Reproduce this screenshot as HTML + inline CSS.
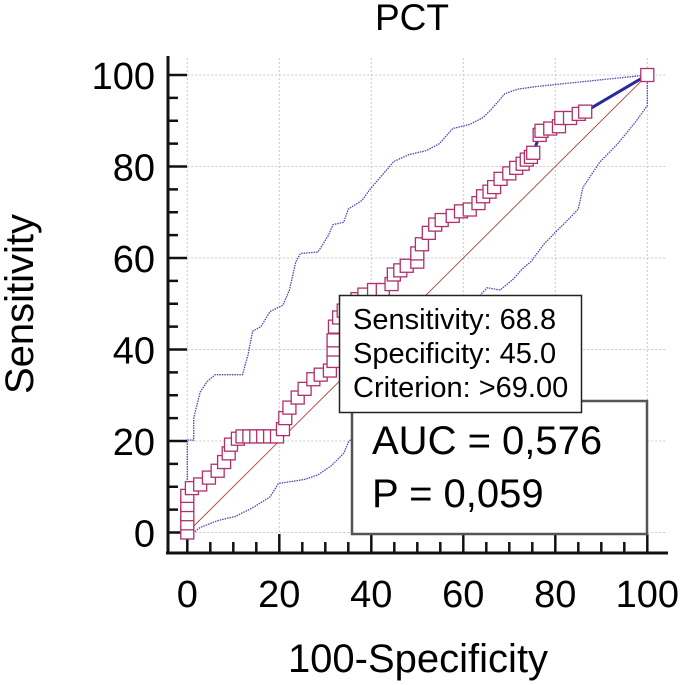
<!DOCTYPE html>
<html><head><meta charset="utf-8"><style>
html,body{margin:0;padding:0;background:#fff;}
svg{display:block;font-family:"Liberation Sans",Arial,sans-serif;}
</style></head><body>
<svg id="chart" width="681" height="685" viewBox="0 0 681 685">
<text x="412" y="30" font-size="37" text-anchor="middle">PCT</text>
<g id="grid"></g>
<g id="axes"></g>
<g id="series"></g>
<text x="418" y="672" font-size="40" text-anchor="middle">100-Specificity</text>
<text transform="translate(33,304) rotate(-90)" font-size="40" text-anchor="middle">Sensitivity</text>
<g>
<rect x="352" y="401" width="295" height="133" fill="#fff" stroke="#555" stroke-width="2.5"/>
<text x="372" y="454" font-size="40">AUC = 0,576</text>
<text x="372" y="507" font-size="40">P = 0,059</text>
<rect x="339.5" y="295.5" width="242" height="117" fill="#fff" stroke="#222" stroke-width="1.5"/>
<text x="353" y="329" font-size="29">Sensitivity: 68.8</text>
<text x="353" y="363" font-size="29">Specificity: 45.0</text>
<text x="353" y="397" font-size="29">Criterion: &gt;69.00</text>
</g>
</svg>
<script>
const ticks=[0,20,40,60,80,100];
const rocX=[0,0,0,0,0,1,2.8,4.7,6.6,8,9,9.5,11,12,13.5,15,16.5,18,19.5,20.8,21.3,22.2,24,25.5,27.4,29,31,31.8,31.8,31.8,32.1,33,34,35.5,37,38.5,40.6,42.5,44.4,44.9,46.3,47.7,50,50,51,52.5,53.9,55.3,57.7,59.5,61.4,63.3,64.3,65.7,66.7,68.1,70,71.5,72.9,73.8,74.7,75.2,76.6,77,78.9,80.8,81.3,83.2,85.1,86.5,100];
const rocY=[0,2,4,6,8,9.7,10.5,12,13.5,15.4,17.3,19.2,20.5,21,21,21,21,21,21,22.6,25,27.3,29.5,31.4,33.5,34.5,35.4,37.5,40,42,45,47,48.5,50,51,52,53,53,54.3,56.4,57.3,58.3,59.2,61,63,65.5,67.3,68.3,69.2,70.2,70.6,72,73.5,74.5,75.5,77.3,78.5,79.7,80.6,81.5,82.1,83,86.9,87.8,88.3,88.8,90.6,90.6,91.5,92,100];
const upX=[0,0,1.4,1.4,2.8,4.3,6.1,12,13.2,14.2,16,18,20.8,22.2,23.6,24.6,28.4,30.7,31.7,34,35,38,39.7,42.5,44.9,48.2,52,54.8,57.7,61.4,64.3,66.2,69,71.8,76,100];
const upY=[0,20.2,20.2,25,30.7,33,34.5,34.5,38.8,44,45,48.3,49.7,53,59.2,61,61.3,65,67.3,67.8,70.7,72.6,75,78.3,81.1,82.6,83.5,85,88.3,89.2,90.7,92.6,95.9,96.9,97.5,100];
const loX=[100,100,97.4,93.6,89.8,87.9,86,85,83.2,80.3,77.5,74.7,72.8,70.9,68,65.2,60,55,50,45,40,35,34,31.2,28.4,25.5,19.8,18,14.2,10.4,6.6,2.8,1.4,0];
const loY=[100,93.3,89.7,85,81.1,78.3,75.4,70.7,68.8,65.9,63,59.2,57.6,55.4,53,53.5,48,42,37,31,25,19.7,17.3,14.5,12.6,11.6,10.7,7.8,5.4,3.5,2.6,1.1,0,0];
const NS='http://www.w3.org/2000/svg';
const sx=v=>187.3+v*4.6, sy=v=>532.5-v*4.575;
function mk(tag,attrs,parent){const e=document.createElementNS(NS,tag);for(const k in attrs)e.setAttribute(k,attrs[k]);parent.appendChild(e);return e;}
const grid=document.getElementById('grid'),axes=document.getElementById('axes'),ser=document.getElementById('series');
ticks.forEach(t=>{
 const g1=mk('line',{x1:sx(0)-16,x2:667,y1:sy(t),y2:sy(t),stroke:'#c8c8c8','stroke-width':1,'stroke-dasharray':'2,2'},grid);
 
 
 const g2=mk('line',{x1:sx(t),x2:sx(t),y1:58,y2:552,stroke:'#c8c8c8','stroke-width':1,'stroke-dasharray':'2,2'},grid);
 
 
 const ly=mk('text',{x:155,y:sy(t)+14,'font-size':38,'text-anchor':'end'},axes);ly.textContent=t;
 
 
 const lx=mk('text',{x:sx(t),y:607,'font-size':38,'text-anchor':'middle'},axes);lx.textContent=t;
 
 
});
for(let t=0;t<=100;t+=5){
 const maj=t%20===0;
 mk('line',{x1:168,x2:maj?187:178,y1:sy(t),y2:sy(t),stroke:'#111','stroke-width':2.5},axes);
 mk('line',{x1:sx(t),x2:sx(t),y1:552,y2:maj?534:542,stroke:'#111','stroke-width':2.5},axes);
}
const ya=mk('line',{x1:168,x2:168,y1:56,y2:554,stroke:'#111','stroke-width':3},axes);

const xa=mk('line',{x1:166,x2:668,y1:553,y2:553,stroke:'#111','stroke-width':3},axes);

const dg=mk('line',{x1:sx(0),y1:sy(0),x2:sx(100),y2:sy(100),stroke:'#b04040','stroke-width':0.9},ser);

function pts(X,Y){return X.map((x,i)=>sx(x)+','+sy(Y[i])).join(' ');}
const up=mk('polyline',{points:pts(upX,upY),fill:'none',stroke:'#4848b8','stroke-width':1.3,'stroke-dasharray':'1.5,1'},ser);

const lo=mk('polyline',{points:pts(loX,loY),fill:'none',stroke:'#4848b8','stroke-width':1.3,'stroke-dasharray':'1.5,1'},ser);

const rl=mk('polyline',{points:pts(rocX,rocY),fill:'none',stroke:'#2828a0','stroke-width':3},ser);

rocX.forEach((x,i)=>{
 const r=mk('rect',{x:sx(x)-6.5,y:sy(rocY[i])-6.5,width:13,height:13,fill:'#fff',stroke:'#b0306a','stroke-width':1.3},ser);
 
 
});
</script>
</body></html>
